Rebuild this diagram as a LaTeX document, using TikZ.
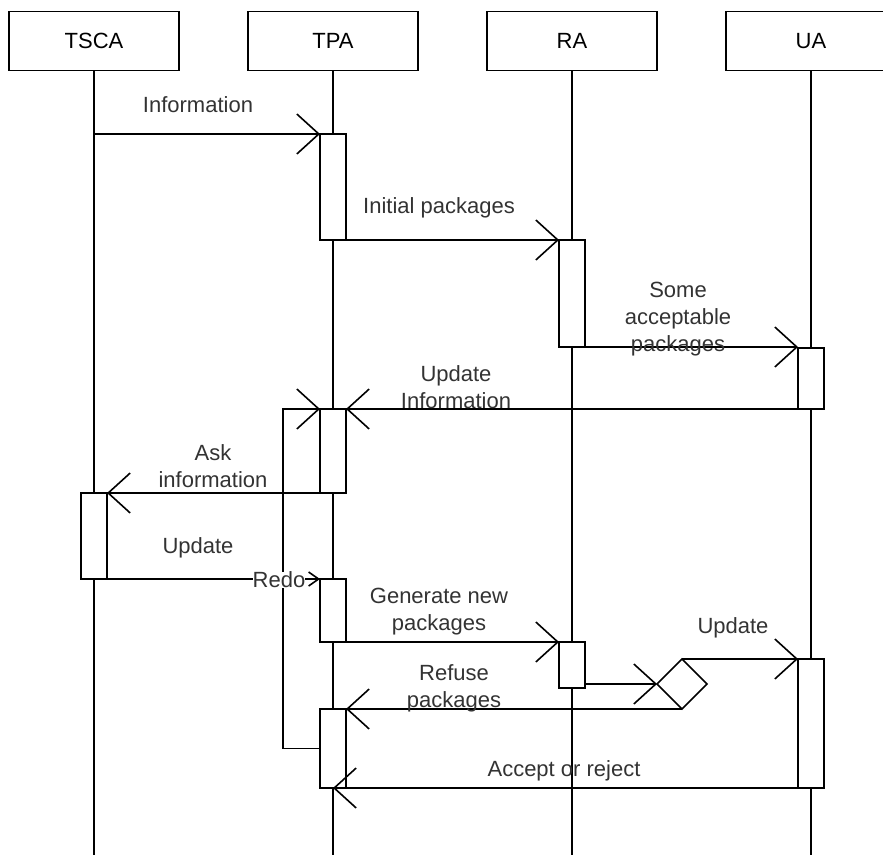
\documentclass[tikz,border=0pt]{standalone}
\usepackage{fontspec}
\setmainfont{Liberation Sans}
\usetikzlibrary{arrows.meta,shapes.geometric}
\tikzset{
  head/.style={draw,minimum width=85pt,minimum height=29.5pt,inner sep=0pt},
  act/.style={draw,fill=white,minimum width=13pt,inner sep=0pt,outer sep=0pt,anchor=north},
  msg/.style={-{Straight Barb[length=11pt,width=20pt]}},
  lbl/.style={align=center,text=black!80,inner sep=1pt},
}
\begin{document}
\begin{tikzpicture}[x=0.5pt,y=-0.5pt,line width=0.8pt,font=\fontsize{11}{13.5}\selectfont]
\useasboundingbox (0,0) rectangle (883,855);
\clip (0,0) rectangle (883,855);
% objects and lifelines
\node[head] (tsca) at (94,41) {TSCA};
\node[head] (tpa) at (333,41) {TPA};
\node[head] (ra) at (572,41) {RA};
\node[head] (ua) at (811,41) {UA};
\foreach \o in {tsca,tpa,ra,ua} \draw (\o.south) -- (\o.south |- 0,855);
% activations
\node[act,minimum height=53pt] (tpa1) at (333,134) {};
\node[act,minimum height=53.5pt] (ra1) at (572,240) {};
\node[act,minimum height=30.5pt] (ua1) at (811,348) {};
\node[act,minimum height=42pt] (tpa2) at (333,409) {};
\node[act,minimum height=43pt] (tsca1) at (94,493) {};
\node[act,minimum height=31.5pt] (tpa3) at (333,579) {};
\node[act,minimum height=23pt] (ra2) at (572,642) {};
\node[act,minimum height=64.5pt] (ua2) at (811,659) {};
\node[act,minimum height=39.5pt] (tpa4) at (333,709) {};
\node[draw,diamond,fill=white,minimum width=25pt,minimum height=25pt,inner sep=0pt,outer sep=0pt] (dec) at (682,684) {};
% messages
\draw[msg] (tsca |- tpa1.north west) -- (tpa1.north west);
\draw[msg] (tpa1.south east) -- (ra1.north west);
\draw[msg] (ra1.south east) -- (ra1.south east -| ua1.west);
\draw[msg] (ua1.south west) -- (tpa2.north east);
\draw[msg] (tpa2.south west) -- (tsca1.north east);
\draw[-{Straight Barb[length=5pt,width=7pt]}] (tsca1.south east) -- (tpa3.north west);
\draw[msg] (tpa3.south east) -- (ra2.north west);
\draw[msg] (dec.west -| ra2.east) -- (dec.west);
\draw[msg] (dec.north) -- (ua2.north west);
\draw[msg] (dec.south) -- (tpa4.north east);
\draw[msg] (ua2.south west) -- (tpa4.south);
\draw[msg] (tpa4.west) -- ++(-37,0) |- (tpa2.north west);
% labels
\node[lbl] (l1) at (198,105) {Information};
\node[lbl] (l2) at (439,208) {Initial packages};
\node[lbl] (l3) at (678,319) {Some\\acceptable\\packages};
\node[lbl] (l4) at (456,387) {Update\\Information};
\node[lbl] (l5) at (213,466) {Ask\\information};
\node[lbl] (l6) at (198,548) {Update};
\node[lbl] (l7) at (439,612) {Generate new\\packages};
\node[lbl] (l8) at (733,628) {Update};
\node[lbl] (l9) at (454,688) {Refuse\\packages};
\node[lbl] (l10) at (564,771) {Accept or reject};
\node[lbl,fill=white,inner sep=0pt] (redo) at (279,580) {Redo};
\end{tikzpicture}
\end{document}
